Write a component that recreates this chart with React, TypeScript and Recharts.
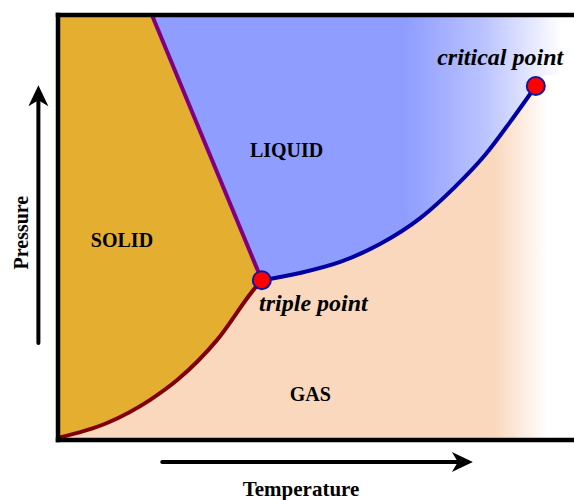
import React from 'react';
import {
  ComposedChart,
  XAxis,
  YAxis,
  Area,
  Line,
  Scatter,
  ReferenceLine,
  ReferenceDot,
} from 'recharts';

// temperature (t) and pressure (p) in plot units 0-100, no ticks shown
const sublimation = [
  { t: 0, p: 0.5 },
  { t: 9.5, p: 4.0 },
  { t: 17.8, p: 9.4 },
  { t: 23.1, p: 14.1 },
  { t: 30.8, p: 23.5 },
  { t: 38.2, p: 35.8 },
  { t: 39.5, p: 37.6 },
];

const vaporization = [
  { t: 39.5, p: 37.6 },
  { t: 46.9, p: 39.3 },
  { t: 54.7, p: 41.9 },
  { t: 62.4, p: 46.1 },
  { t: 70.2, p: 52.2 },
  { t: 76.9, p: 59.5 },
  { t: 82.8, p: 67.1 },
  { t: 87.6, p: 74.8 },
  { t: 92.6, p: 83.3 },
];

const fusion = [
  { t: 18.2, p: 100 },
  { t: 39.5, p: 37.6 },
];

// supercritical edge of the gas region, right of the critical point
const gasEdge = [
  { t: 94.4, p: 85.9 },
  { t: 100, p: 85.9 },
];

const liquidBox = [
  { t: 0, p: 100 },
  { t: 100, p: 100 },
];

const solidTop = [
  { t: 0, p: 100 },
  { t: 18.2, p: 100 },
  { t: 39.5, p: 37.6 },
];

const specialPoints = [
  { name: 'triple point', t: 39.5, p: 37.6 },
  { name: 'critical point', t: 92.6, p: 83.3 },
];

const regionLabels = [
  { text: 'SOLID', t: 12.4, p: 47.2 },
  { text: 'LIQUID', t: 44.3, p: 68.2 },
  { text: 'GAS', t: 48.9, p: 10.8 },
];

const pointLabels = [
  { text: 'triple point', t: 49.5, p: 32.4 },
  { text: 'critical point', t: 85.7, p: 90.2 },
];

const gasData = [...sublimation, ...vaporization.slice(1), ...gasEdge];

const FONT = "'Liberation Serif', 'Times New Roman', serif";

const Arrow = (props: any) => {
  const { x1, y1, x2, y2 } = props;
  const dx = x2 - x1;
  const dy = y2 - y1;
  const len = Math.hypot(dx, dy);
  const ux = dx / len;
  const uy = dy / len;
  const nx = -uy;
  const ny = ux;
  const L = 21;
  const W = 10;
  const N = 6;
  const bx = x2 - ux * L;
  const by = y2 - uy * L;
  const mx = x2 - ux * (L - N);
  const my = y2 - uy * (L - N);
  return (
    <g>
      <line x1={x1} y1={y1} x2={mx} y2={my} stroke="#000" strokeWidth={4} strokeLinecap="round" />
      <polygon
        points={`${x2},${y2} ${bx + nx * W},${by + ny * W} ${mx},${my} ${bx - nx * W},${by - ny * W}`}
        fill="#000"
      />
    </g>
  );
};

const Edge = (props: any) => (
  <line x1={props.x1} y1={props.y1} x2={props.x2} y2={props.y2} stroke="#000" strokeWidth={4.5} strokeLinecap="square" />
);

const PointDot = (props: any) => (
  <circle cx={props.cx} cy={props.cy} r={9} fill="#FF0000" stroke="#1414A0" strokeWidth={2} />
);

export default function App() {
  return (
    <div style={{ position: 'absolute', left: 0, top: 0, background: '#fff' }}>
      <ComposedChart width={574} height={500} margin={{ top: 15, right: 0, bottom: 60, left: 58 }}>
        <defs>
          <linearGradient id="liqGrad" gradientUnits="userSpaceOnUse" x1={405} y1={0} x2={562} y2={0}>
            <stop offset="0%" stopColor="#8F9DFF" />
            <stop offset="50%" stopColor="#BAC3FF" />
            <stop offset="100%" stopColor="#FFFFFF" />
          </linearGradient>
          <linearGradient id="gasGrad" gradientUnits="userSpaceOnUse" x1={495} y1={0} x2={548} y2={0}>
            <stop offset="0%" stopColor="#FAD8BE" />
            <stop offset="100%" stopColor="#FFFFFF" />
          </linearGradient>
        </defs>
        <XAxis type="number" dataKey="t" domain={[0, 100]} hide allowDataOverflow />
        <YAxis type="number" dataKey="p" domain={[0, 100]} hide allowDataOverflow />

        <Area data={liquidBox} dataKey="p" type="linear" stroke="none" fill="url(#liqGrad)" fillOpacity={1} isAnimationActive={false} />
        <Area data={solidTop} dataKey="p" type="linear" stroke="none" fill="#E4AF31" fillOpacity={1} isAnimationActive={false} />
        <Area data={gasData} dataKey="p" type="monotone" stroke="none" fill="url(#gasGrad)" fillOpacity={1} isAnimationActive={false} />

        <Line data={sublimation} dataKey="p" type="monotone" stroke="#800000" strokeWidth={4} dot={false} isAnimationActive={false} />
        <Line data={vaporization} dataKey="p" type="monotone" stroke="#0000A0" strokeWidth={4} dot={false} isAnimationActive={false} />
        <Line data={fusion} dataKey="p" type="linear" stroke="#800080" strokeWidth={4} dot={false} isAnimationActive={false} />

        <ReferenceLine y={100} shape={Edge} />
        <ReferenceLine y={0} shape={Edge} />
        <ReferenceLine x={0} shape={Edge} />

        <Scatter data={specialPoints} dataKey="p" shape={PointDot} isAnimationActive={false} />

        <ReferenceLine segment={[{ x: -3.8, y: 22.8 }, { x: -3.8, y: 83.5 }]} ifOverflow="visible" shape={Arrow} />
        <ReferenceLine segment={[{ x: 20.2, y: -5.2 }, { x: 80.4, y: -5.2 }]} ifOverflow="visible" shape={Arrow} />

        {regionLabels.map((d) => (
          <ReferenceDot
            key={d.text}
            x={d.t}
            y={d.p}
            r={0}
            stroke="none"
            label={{ value: d.text, position: 'center', fill: '#000', fontSize: 20, fontWeight: 'bold', fontFamily: FONT }}
          />
        ))}
        {pointLabels.map((d) => (
          <ReferenceDot
            key={d.text}
            x={d.t}
            y={d.p}
            r={0}
            stroke="none"
            label={{ value: d.text, position: 'center', fill: '#000', fontSize: 24, fontWeight: 'bold', fontStyle: 'italic', fontFamily: FONT }}
          />
        ))}
        <ReferenceDot
          x={47.1}
          y={-11.5}
          r={0}
          stroke="none"
          ifOverflow="visible"
          label={{ value: 'Temperature', position: 'center', fill: '#000', fontSize: 21, fontWeight: 'bold', fontFamily: FONT }}
        />
        <ReferenceDot
          x={-7.2}
          y={48.8}
          r={0}
          stroke="none"
          ifOverflow="visible"
          label={{ value: 'Pressure', position: 'center', angle: -90, fill: '#000', fontSize: 20, fontWeight: 'bold', fontFamily: FONT }}
        />
      </ComposedChart>
    </div>
  );
}
